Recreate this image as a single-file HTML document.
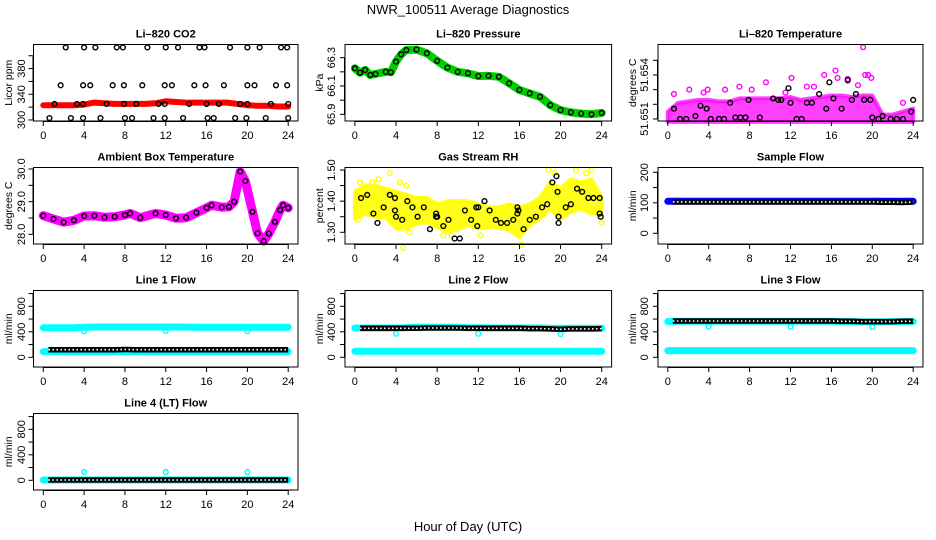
<!DOCTYPE html>
<html><head><meta charset="utf-8"><title>NWR_100511 Average Diagnostics</title>
<style>
html,body{margin:0;padding:0;background:#fff;}
svg{display:block;font-family:"Liberation Sans",Arial,sans-serif;}
</style></head>
<body>
<svg id="chart" width="936" height="540" viewBox="0 0 936 540" xmlns="http://www.w3.org/2000/svg">
<text x="468" y="14" text-anchor="middle" font-size="13">NWR_100511  Average Diagnostics</text>
<text x="468" y="531" text-anchor="middle" font-size="13">Hour of Day (UTC)</text>
</svg>
<script>
// ---------- data ----------
const hours = [0,1,2,3,4,5,6,7,8,9,10,11,12,13,14,15,16,17,18,19,20,21,22,23,24];
const chainHours = [0.5,1,2,3,4,5,6,7,8,9,10,11,12,13,14,15,16,17,18,19,20,21,22,23,24];
const xTicks = [0,4,8,12,16,20,24];

const co2Line = [323,323,323,323,324,327,326,325,325,325,325,326,329,328,327,327,327,327,327,325,323,322,322,321,321];
const co2HiHours = [2.2,4.0,5.1,7.2,7.8,10.2,12.0,13.2,15.3,15.8,18.3,20.0,21.2,23.3,23.9];
const co2MidHours = [1.7,3.9,4.6,6.8,7.9,9.7,11.9,12.6,14.8,15.9,17.7,20.0,20.7,22.8,23.9];
const co2OnHours = [1.1,3.3,3.9,6.2,7.9,9.1,11.3,11.9,14.3,16.0,17.2,19.3,20.0,22.3,24.0];
const co2LoHours = [0.6,2.7,3.9,5.6,8.0,8.7,10.8,11.9,13.7,16.1,16.7,18.8,19.9,21.8,24.0];
const co2Levels = [413,354,325,303];

const presHours = [0,0.5,1,1.5,2,3,3.5,4,4.5,5,6,7,8,9,10,11,12,13,14,15,16,17,18,19,20,21,22,23,24];
const presVals = [66.225,66.194,66.213,66.178,66.185,66.20,66.197,66.272,66.324,66.354,66.357,66.331,66.277,66.23,66.20,66.19,66.17,66.172,66.165,66.119,66.072,66.048,66.024,65.965,65.93,65.914,65.905,65.9,65.91];

const tempLo = [51.6508,51.6508,51.6508,51.6508,51.6508,51.6508,51.6508,51.6508,51.6508,51.6508,51.6508,51.6508,51.6508,51.6508,51.6508,51.6508,51.6508,51.6508,51.6508,51.6508,51.6508,51.6508,51.6508,51.6508,51.6508];
const tempHi = [51.6515,51.6521,51.6522,51.6523,51.6523,51.6522,51.6522,51.6524,51.6524,51.6524,51.6524,51.6524,51.6525,51.6523,51.6524,51.6525,51.6526,51.6526,51.6525,51.6526,51.6526,51.6513,51.6513,51.6515,51.6517];
const tempOutHours = [0.6,2.1,3.5,3.9,5.6,7.0,8.2,9.6,11.5,12.1,13.6,14.3,15.3,16.4,16.6,17.6,18.6,19.1,19.3,19.6,19.9,23.0];
const tempOutVals = [51.6527,51.653,51.6528,51.653,51.653,51.6532,51.653,51.6535,51.6528,51.6538,51.6532,51.6532,51.654,51.6543,51.6538,51.6536,51.6533,51.6559,51.654,51.654,51.6538,51.6521];
const tempAvgHours = [0.6,1.2,1.8,2.7,3.2,3.8,4.2,5.0,5.5,6.1,6.6,7.1,7.6,7.9,9.0,10.3,10.8,11.1,11.8,12.0,12.6,13.1,13.6,14.1,14.8,15.5,15.8,16.2,17.0,17.6,18.0,18.4,19.2,19.8,20.0,20.6,21.0,21.8,22.4,23.0,23.8,24.0];
const tempAvgVals = [51.6517,51.651,51.651,51.6512,51.6519,51.6517,51.651,51.651,51.651,51.6521,51.6511,51.6511,51.6511,51.6523,51.6511,51.6524,51.6523,51.6523,51.6531,51.6521,51.651,51.651,51.6521,51.6521,51.6527,51.6517,51.6535,51.6524,51.6517,51.6537,51.6523,51.6527,51.6523,51.6523,51.6511,51.651,51.6512,51.651,51.651,51.651,51.6515,51.6523];

const boxHours = [0,1,2,3,4,5,6,7,8,8.5,9.5,11,12,13,14,15,16,16.5,17.5,18.2,18.7,19.3,19.8,20.5,21,21.6,22.1,22.7,23.2,23.5,24];
const boxVals = [28.57,28.47,28.37,28.43,28.56,28.57,28.52,28.54,28.59,28.64,28.51,28.64,28.59,28.49,28.51,28.66,28.81,28.89,28.83,28.84,29.0,29.92,29.63,28.69,28.03,27.79,28.02,28.38,28.74,28.89,28.81];

const rhLo = [1.344,1.36,1.349,1.349,1.312,1.312,1.328,1.333,1.317,1.301,1.312,1.323,1.312,1.317,1.317,1.307,1.285,1.323,1.344,1.376,1.344,1.366,1.376,1.36,1.36];
const rhHi = [1.43,1.45,1.45,1.44,1.43,1.42,1.41,1.41,1.39,1.40,1.40,1.40,1.39,1.38,1.38,1.39,1.38,1.39,1.41,1.46,1.44,1.47,1.46,1.47,1.41];
const rhOutHours = [0.3,0.5,1.7,2.3,3.4,4.7,5.0,5.3,8.6,10.0,12.2,16.2,18.8,19.4,21.5,22.5,23.0,24.0,4.4,9.4];
const rhOutVals = [1.34,1.46,1.46,1.47,1.49,1.25,1.45,1.30,1.29,1.31,1.29,1.26,1.50,1.49,1.50,1.49,1.50,1.33,1.46,1.29];
const rhAvgHours = [0.6,1.2,1.8,2.2,2.8,3.4,3.9,3.9,4.0,4.6,5.1,5.6,6.1,6.7,7.3,7.9,7.9,8.0,8.6,9.1,9.7,10.2,10.7,11.3,11.8,11.9,12.0,12.6,13.1,13.7,14.2,14.8,15.4,15.8,15.8,15.9,16.4,17.0,17.6,18.2,18.7,19.2,19.6,19.7,19.8,19.8,20.5,21.0,21.6,22.1,22.7,23.2,23.8,23.8,23.9];
const rhAvgVals = [1.41,1.42,1.36,1.33,1.38,1.42,1.41,1.37,1.35,1.34,1.40,1.38,1.35,1.38,1.31,1.36,1.35,1.35,1.32,1.34,1.28,1.28,1.37,1.34,1.38,1.32,1.38,1.40,1.37,1.34,1.33,1.33,1.34,1.38,1.36,1.37,1.31,1.34,1.35,1.38,1.39,1.46,1.48,1.43,1.35,1.33,1.38,1.39,1.44,1.43,1.41,1.41,1.41,1.36,1.35];

const sampleCyan = [105,105,105,105,105,105,105,105,105,105,105,105,105,105,105,105,105,105,105,105,105,105,105,105,105];
const sampleAvg = [103,103,103,103,103,103,103,103,103,103,103,103,103,103,103,103,103,103,103,103,103,102,102,101,103];

const dipHours = [4,12,20];
const line1Hi = [465,465,465,465,470,475,475,475,475,475,475,475,475,475,475,470,470,470,470,470,470,470,470,470,470];
const line1Lo = [90,90,90,90,90,90,90,90,90,90,90,90,90,90,90,90,90,90,90,90,90,90,90,90,90];
const line1Avg = [120,120,120,120,120,120,120,120,122,120,120,120,120,120,120,120,120,120,120,120,120,120,120,120,120];
const line1Dips = [410,415,410];

const line2Hi = [460,460,460,460,460,465,470,470,470,470,470,465,465,460,460,460,460,460,460,455,455,455,455,455,455];
const line2Lo = [95,95,95,95,95,95,95,95,95,95,95,95,95,95,95,95,95,95,95,95,95,95,95,95,95];
const line2Avg = [455,455,455,455,455,455,455,460,460,460,460,455,455,455,455,455,455,450,450,445,440,445,445,445,450];
const line2Dips = [370,370,365];

const line3Hi = [560,565,565,565,565,565,565,565,565,565,565,565,565,565,565,565,565,560,560,555,555,555,560,560,560];
const line3Lo = [105,105,105,105,105,105,105,105,105,105,105,105,105,105,105,105,105,105,105,105,105,105,105,105,105];
const line3Avg = [570,570,570,570,570,570,570,570,570,570,570,570,570,570,570,570,570,565,565,560,560,560,560,565,565];
const line3Dips = [480,480,475];

const line4Cyan = [5,5,5,5,5,5,5,5,5,5,5,5,5,5,5,5,5,5,5,5,5,5,5,5,5];
const line4Avg = [5,5,5,5,5,5,5,5,5,5,5,5,5,5,5,5,5,5,5,5,5,5,5,5,5];
const line4Dips = [130,130,130];

// ---------- layout ----------
const NS = "http://www.w3.org/2000/svg";
const svg = document.getElementById('chart');
const colL = [33.5,345,658];
const colR = [298,611.6,923];
const rowT = [44.5,167.5,290.5,413.5];
const rowH = 76.5;
const ylabX = [8,319,632];
const ytlX = [21,331,644];

function el(tag, attrs, parent){
  const e = document.createElementNS(NS, tag);
  for (const k in attrs) e.setAttribute(k, attrs[k]);
  (parent||svg).appendChild(e);
  return e;
}

function makePanel(name, col, row, ymin, ymax, ticks, labels, title, ylab){
  const g = el('g', {});
  
  
  const L = colL[col], R = colR[col], T = rowT[row], B = T + rowH;
  const xs = h => L + (h + 0.96) / 25.92 * (R - L);
  const ys = v => T + (ymax - v) / (ymax - ymin) * rowH;
  const marks = el('g', {}, g);
  
  
  const frame = el('rect', {x:L, y:T, width:R-L, height:rowH, fill:'none', stroke:'#000', 'stroke-width':1}, g);
  
  
  const xa = el('g', {}, g);
  
  
  el('line', {x1:xs(0), x2:xs(24), y1:B+0.5, y2:B+0.5, stroke:'#000'}, xa);
  xTicks.forEach(t => {
    el('line', {x1:xs(t), x2:xs(t), y1:B, y2:B+5, stroke:'#000'}, xa);
    const tx = el('text', {x:xs(t), y:B+18, 'text-anchor':'middle', 'font-size':11}, xa);
    tx.textContent = t;
  });
  const ya = el('g', {}, g);
  
  
  el('line', {x1:L-0.5, x2:L-0.5, y1:ys(ticks[0]), y2:ys(ticks[ticks.length-1]), stroke:'#000'}, ya);
  ticks.forEach(t => {
    el('line', {x1:L-5, x2:L, y1:ys(t), y2:ys(t), stroke:'#000'}, ya);
  });
  labels.forEach(lb => {
    const y = ys(parseFloat(lb));
    const tx = el('text', {x:ytlX[col], y:y, 'text-anchor':'middle', 'font-size':11, transform:'rotate(-90 '+ytlX[col]+' '+y+')', dy:'4'}, ya);
    tx.textContent = lb;
  });
  const yl = el('text', {x:ylabX[col], y:T+rowH/2, 'text-anchor':'middle', 'font-size':10.5, transform:'rotate(-90 '+ylabX[col]+' '+(T+rowH/2)+')', dy:'4'}, g);
  
  
  yl.textContent = ylab;
  const ti = el('text', {x:(L+R)/2, y:T-7, 'text-anchor':'middle', 'font-size':11, 'font-weight':'bold'}, g);
  
  
  ti.textContent = title;
  return {xs, ys, g:marks};
}

function band(p, hs, vals, color, w, name){
  const pts = [];
  hs.forEach((h,i) => { if (vals[i] !== null) pts.push(p.xs(h).toFixed(1)+','+p.ys(vals[i]).toFixed(1)); });
  const pl = el('polyline', {points:pts.join(' '), fill:'none', stroke:color, 'stroke-width':w, 'stroke-linejoin':'round', 'stroke-linecap':'round'}, p.g);
  
  
}
function chain(p, hs, vals, name){
  const pts = [];
  hs.forEach((h,i) => { if (vals[i] !== null) pts.push(p.xs(h).toFixed(1)+','+p.ys(vals[i]).toFixed(1)); });
  const a = el('polyline', {points:pts.join(' '), fill:'none', stroke:'#000', 'stroke-width':5.5, 'stroke-linejoin':'round'}, p.g);
  
  
  el('polyline', {points:pts.join(' '), fill:'none', stroke:'#fff', 'stroke-width':1.6, 'stroke-dasharray':'1.6 2.4'}, p.g);
}
function circles(p, hs, vals, color, name, r){
  hs.forEach((h,i) => {
    if (vals[i] === null) return;
    const c = el('circle', {cx:p.xs(h), cy:p.ys(vals[i]), r:r||2.4, fill:'none', stroke:color, 'stroke-width':1.4}, p.g);
    
    
  });
}
function envelope(p, hs, lo, hi, color, op, name){
  const pts = [];
  hs.forEach((h,i) => pts.push(p.xs(h).toFixed(1)+','+p.ys(hi[i]).toFixed(1)));
  for (let i = hs.length-1; i >= 0; i--) pts.push(p.xs(hs[i]).toFixed(1)+','+p.ys(lo[i]).toFixed(1));
  const pg = el('polygon', {points:pts.join(' '), fill:color, 'fill-opacity':op, stroke:color, 'stroke-width':4, 'stroke-linejoin':'round', 'stroke-opacity':op}, p.g);
  
  
}
function constArr(n, v){ const a = []; for (let i=0;i<n;i++) a.push(v); return a; }

// ---------- panels ----------
const p1 = makePanel('co2', 0, 0, 298.4, 417.5, [300,320,340,360,380,400], ['300','340','380'], 'Li\u2013820 CO2', 'Licor ppm');
band(p1, hours, co2Line, '#ff0000', 6, 'co2-series');
circles(p1, co2HiHours, constArr(co2HiHours.length, co2Levels[0]), '#000', 'co2-avg-point');
circles(p1, co2MidHours, constArr(co2MidHours.length, co2Levels[1]), '#000', 'co2-avg-point');
circles(p1, co2OnHours, constArr(co2OnHours.length, co2Levels[2]), '#000', 'co2-avg-point');
circles(p1, co2LoHours, constArr(co2LoHours.length, co2Levels[3]), '#000', 'co2-avg-point');

const p2 = makePanel('pressure', 1, 0, 65.853, 66.393, [65.9,66.0,66.1,66.2,66.3], ['65.9','66.1','66.3'], 'Li\u2013820 Pressure', 'kPa');
band(p2, presHours, presVals, '#00cc00', 8, 'pressure-series');
circles(p2, presHours, presVals, '#000', 'pressure-avg-point');

const p3 = makePanel('licor-temp', 2, 0, 51.65086, 51.65608, [51.651,51.652,51.653,51.654,51.655], ['51.651','51.654'], 'Li\u2013820 Temperature', 'degrees C');
envelope(p3, hours, tempLo, tempHi, '#ff00ff', 0.75, 'licor-temp-cloud');
circles(p3, tempOutHours, tempOutVals, '#ff00ff', 'licor-temp-point');
circles(p3, tempAvgHours, tempAvgVals, '#000', 'licor-temp-avg-point');

const p4 = makePanel('box-temp', 0, 1, 27.703, 30.046, [28.0,28.5,29.0,29.5,30.0], ['28.0','29.0','30.0'], 'Ambient Box Temperature', 'degrees C');
band(p4, boxHours, boxVals, '#ff00ff', 9, 'box-temp-series');
circles(p4, boxHours, boxVals, '#000', 'box-temp-avg-point');

const p5 = makePanel('rh', 1, 1, 1.2624, 1.508, [1.30,1.35,1.40,1.45,1.50], ['1.30','1.40','1.50'], 'Gas Stream RH', 'percent');
envelope(p5, hours, rhLo, rhHi, '#ffff00', 0.9, 'rh-cloud');
circles(p5, rhOutHours, rhOutVals, '#ffff00', 'rh-point');
circles(p5, rhAvgHours, rhAvgVals, '#000', 'rh-avg-point');

const p6 = makePanel('sample-flow', 2, 1, -35, 215.7, [0,50,100,150,200], ['0','100','200'], 'Sample Flow', 'ml/min');
band(p6, hours, sampleCyan, '#0000ff', 7, 'sample-flow-series');
chain(p6, chainHours, sampleAvg, 'sample-flow-avg');

const flowTicks = [0,200,400,600,800,1000];
const flowLabels = ['0','400','800'];
const p7 = makePanel('line1-flow', 0, 2, -152, 1048, flowTicks, flowLabels, 'Line 1 Flow', 'ml/min');
band(p7, hours, line1Hi, '#00ffff', 7, 'line1-high-series');
band(p7, hours, line1Lo, '#00ffff', 7, 'line1-low-series');
circles(p7, dipHours, line1Dips, '#00ffff', 'line1-dip-point');
chain(p7, chainHours, line1Avg, 'line1-avg');

const p8 = makePanel('line2-flow', 1, 2, -152, 1048, flowTicks, flowLabels, 'Line 2 Flow', 'ml/min');
band(p8, hours, line2Hi, '#00ffff', 7, 'line2-high-series');
band(p8, hours, line2Lo, '#00ffff', 7, 'line2-low-series');
circles(p8, dipHours, line2Dips, '#00ffff', 'line2-dip-point');
chain(p8, chainHours, line2Avg, 'line2-avg');

const p9 = makePanel('line3-flow', 2, 2, -152, 1048, flowTicks, flowLabels, 'Line 3 Flow', 'ml/min');
band(p9, hours, line3Hi, '#00ffff', 7, 'line3-high-series');
band(p9, hours, line3Lo, '#00ffff', 7, 'line3-low-series');
circles(p9, dipHours, line3Dips, '#00ffff', 'line3-dip-point');
chain(p9, chainHours, line3Avg, 'line3-avg');

const p10 = makePanel('line4-flow', 0, 3, -152, 1048, flowTicks, flowLabels, 'Line 4 (LT) Flow', 'ml/min');
band(p10, hours, line4Cyan, '#00ffff', 7, 'line4-series');
circles(p10, dipHours, line4Dips, '#00ffff', 'line4-dip-point');
chain(p10, chainHours, line4Avg, 'line4-avg');
</script>
</body></html>
